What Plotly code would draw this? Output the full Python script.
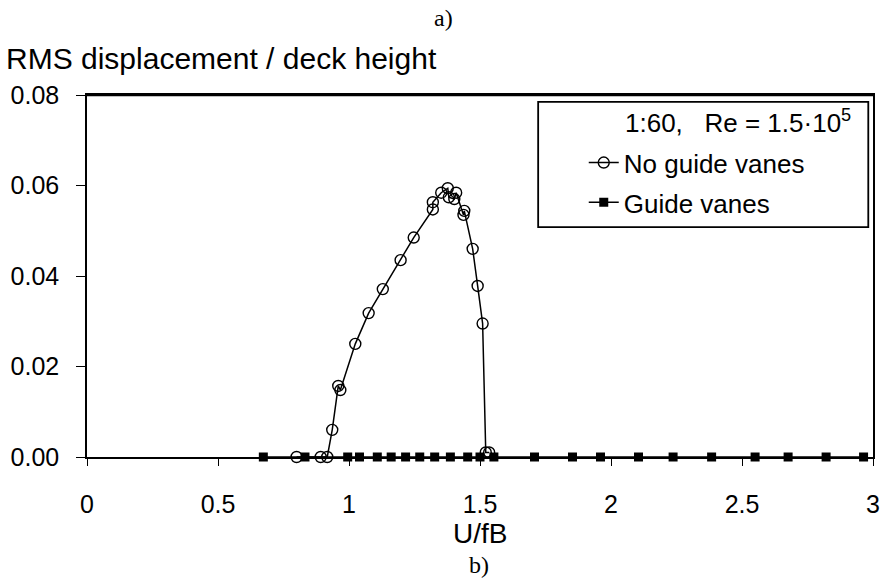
import plotly.graph_objects as go

# Response without guide vanes (open circles)
no_vanes_x = [0.800, 0.892, 0.917, 0.936, 0.959, 0.967, 1.024, 1.075, 1.129, 1.197,
              1.247, 1.320, 1.320, 1.352, 1.377, 1.381, 1.402, 1.409, 1.437, 1.440,
              1.472, 1.491, 1.510, 1.522, 1.535]
no_vanes_y = [0.0, 0.0, 0.0, 0.0060, 0.0157, 0.0148, 0.0250, 0.0318, 0.0371, 0.0435,
              0.0485, 0.0547, 0.0563, 0.0584, 0.0594, 0.0574, 0.0570, 0.0584, 0.0535, 0.0544,
              0.0460, 0.0378, 0.0295, 0.0010, 0.0010]

# Response with guide vanes (filled squares)
vanes_x = [0.673, 0.832, 0.995, 1.040, 1.108, 1.161, 1.216, 1.270, 1.327, 1.387,
           1.453, 1.500, 1.553, 1.708, 1.853, 1.960, 2.105, 2.237, 2.384, 2.550,
           2.676, 2.821, 2.964]
vanes_y = [0.0] * len(vanes_x)

x_ticks = [0, 0.5, 1, 1.5, 2, 2.5, 3]
x_tick_text = ["0", "0.5", "1", "1.5", "2", "2.5", "3"]
y_ticks = [0.00, 0.02, 0.04, 0.06, 0.08]
y_tick_text = ["0.00", "0.02", "0.04", "0.06", "0.08"]

SANS = "Liberation Sans, Arial, sans-serif"
SERIF = "Liberation Serif, Times New Roman, serif"

fig = go.Figure()
fig.add_trace(go.Scatter(
    x=no_vanes_x, y=no_vanes_y, mode="lines+markers", name="No guide vanes",
    line=dict(color="black", width=1.5),
    marker=dict(symbol="circle-open", size=11, color="black", line=dict(width=1.4)),
    cliponaxis=False, legendgroup="a",
))
fig.add_trace(go.Scatter(
    x=vanes_x, y=vanes_y, mode="lines+markers", name="Guide vanes",
    line=dict(color="black", width=1.5),
    marker=dict(symbol="square", size=9, color="black"),
    cliponaxis=False, legendgroup="b",
))

axis_common = dict(showgrid=False, zeroline=False, color="black",
                   linecolor="black", linewidth=1.5, tickcolor="black",
                   tickwidth=1.3, tickfont=dict(family=SANS, size=25, color="black"))

fig.update_layout(
    width=891, height=582,
    margin=dict(l=86, r=11, t=95, b=125),
    paper_bgcolor="white", plot_bgcolor="white",
    font=dict(family=SANS, color="black"),
    xaxis=dict(range=[0, 3], tickvals=x_ticks, ticktext=x_tick_text,
               ticks="outside", ticklen=7, showline=True, mirror=True,
               ticklabelstandoff=17, **axis_common),
    yaxis=dict(range=[0, 0.08], tickvals=y_ticks, ticktext=y_tick_text,
               ticks="outside", ticklen=9, showline=True, mirror=True,
               ticklabelstandoff=12, **axis_common),
    # short inward tick stubs so the tick marks cross the axis lines
    xaxis2=dict(range=[0, 3], tickvals=x_ticks, overlaying="x", anchor="y",
                ticks="inside", ticklen=7, showticklabels=False, showline=False,
                showgrid=False, zeroline=False, tickcolor="black", tickwidth=1.3),
    yaxis2=dict(range=[0, 0.08], tickvals=y_ticks, overlaying="y", anchor="x",
                ticks="inside", ticklen=5, showticklabels=False, showline=False,
                showgrid=False, zeroline=False, tickcolor="black", tickwidth=1.3),
    showlegend=True,
    legend=dict(x=0.632, xanchor="left", y=0.878, yanchor="top",
                bgcolor="rgba(0,0,0,0)", borderwidth=0,
                font=dict(family=SANS, size=26, color="black"),
                traceorder="grouped", tracegroupgap=3,
                itemwidth=30),
)

# heavier frame line along the top edge of the plot
fig.add_shape(type="line", xref="paper", yref="paper", x0=0, x1=1, y0=1, y1=1,
              line=dict(color="black", width=2.5))
# legend frame
fig.add_shape(type="rect", xref="paper", yref="paper",
              x0=0.574, x1=0.994, y0=0.635, y1=0.981,
              line=dict(color="black", width=1.8), fillcolor="rgba(0,0,0,0)")

fig.add_annotation(text="1:60,   Re = 1.5\u00b710<sup>5</sup>", xref="paper", yref="paper",
                   x=0.975, y=0.926, xanchor="right", yanchor="middle", showarrow=False,
                   font=dict(family=SANS, size=26, color="black"))
fig.add_annotation(text="RMS displacement / deck height", xref="paper", yref="paper",
                   x=-84 / 794, y=1.102, xanchor="left", yanchor="middle", showarrow=False,
                   font=dict(family=SANS, size=30, color="black"))
fig.add_annotation(text="U/fB", xref="paper", yref="paper",
                   x=0.5, y=-0.21, xanchor="center", yanchor="middle", showarrow=False,
                   font=dict(family=SANS, size=28, color="black"))
fig.add_annotation(text="a)", xref="paper", yref="paper",
                   x=(446 - 86) / 794, y=(457 - 18) / 362, xanchor="center", yanchor="middle",
                   showarrow=False, font=dict(family=SERIF, size=24, color="black"))
fig.add_annotation(text="b)", xref="paper", yref="paper",
                   x=(482 - 86) / 794, y=(457 - 565) / 362, xanchor="center", yanchor="middle",
                   showarrow=False, font=dict(family=SERIF, size=24, color="black"))

fig.write_html("out.html")
